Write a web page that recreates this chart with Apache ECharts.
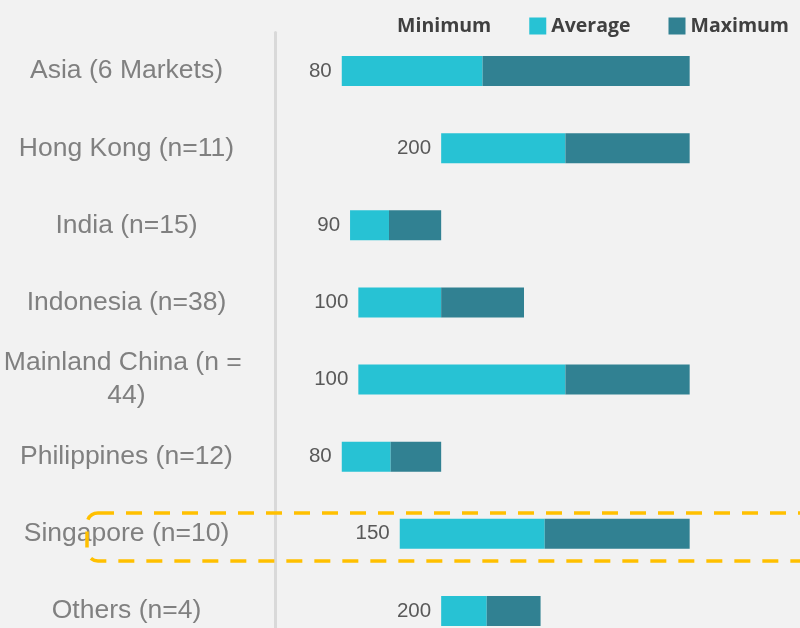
<!DOCTYPE html>
<html>
<head>
<meta charset="utf-8">
<script src="https://cdn.jsdelivr.net/npm/echarts@6/dist/echarts.min.js"></script>
<style>
  html, body { margin: 0; padding: 0; background: #F2F2F2; }
  #chart { width: 800px; height: 628px; }
</style>
</head>
<body>
<div id="chart"></div>
<script>
// Markets, top to bottom
const categories = [
  'Asia (6 Markets)',
  'Hong Kong (n=11)',
  'India (n=15)',
  'Indonesia (n=38)',
  'Mainland China (n = 44)',
  'Philippines (n=12)',
  'Singapore (n=10)',
  'Others (n=4)'
];

// Range per market
const minimum = [80, 200, 90, 100, 100, 80, 150, 200];
const average = [250, 350, 137, 200, 350, 139, 325, 255];
const maximum = [500, 500, 200, 300, 500, 200, 500, 320];

// Stacked segments: hidden base up to the minimum, then min→avg, then avg→max
const avgSegment = average.map((v, i) => v - minimum[i]);
const maxSegment = maximum.map((v, i) => v - average[i]);

const chart = echarts.init(document.getElementById('chart'));

chart.setOption({
  backgroundColor: '#F2F2F2',
  animation: false,
  legend: {
    data: ['Minimum', 'Average', 'Maximum'],
    icon: 'rect',
    right: 6,
    top: 11,
    itemWidth: 17,
    itemHeight: 17,
    itemGap: 38,
    selectedMode: false,
    textStyle: {
      fontFamily: 'Open Sans',
      fontWeight: 'bold',
      fontSize: 19.5,
      color: '#404040'
    }
  },
  grid: {
    left: 275.5,
    top: 32.5,
    height: 617,
    right: 27.5,
    containLabel: false,
    outerBoundsMode: 'none'
  },
  xAxis: {
    type: 'value',
    min: 0,
    max: 600,
    show: false
  },
  yAxis: {
    type: 'category',
    data: categories,
    inverse: true,
    axisTick: { show: false },
    axisLine: { show: true, lineStyle: { color: '#D9D9D9', width: 3 } },
    axisLabel: {
      margin: 149,
      align: 'center',
      width: 250,
      overflow: 'break',
      lineHeight: 33,
      padding: [4, 0, 0, 0],
      fontFamily: 'Liberation Sans',
      fontSize: 26.5,
      color: '#808080'
    }
  },
  series: [
    {
      name: 'Minimum',
      type: 'bar',
      stack: 'range',
      barWidth: 30,
      data: minimum,
      itemStyle: { color: 'transparent' },
      label: {
        show: true,
        position: 'insideRight',
        distance: 10,
        padding: [3, 0, 0, 0],
        fontFamily: 'Liberation Sans',
        fontSize: 20.5,
        color: '#595959'
      },
      emphasis: { disabled: true }
    },
    {
      name: 'Average',
      type: 'bar',
      stack: 'range',
      barWidth: 30,
      data: avgSegment,
      itemStyle: { color: '#27C2D4' },
      emphasis: { disabled: true }
    },
    {
      name: 'Maximum',
      type: 'bar',
      stack: 'range',
      barWidth: 30,
      data: maxSegment,
      itemStyle: { color: '#318192' },
      emphasis: { disabled: true }
    }
  ],
  graphic: [
    {
      type: 'rect',
      silent: true,
      z: 100,
      shape: { x: 87, y: 513, width: 780, height: 48, r: 11 },
      style: {
        fill: 'none',
        stroke: '#FFC000',
        lineWidth: 3.5,
        lineDash: [16, 12]
      }
    }
  ]
});
</script>
</body>
</html>
